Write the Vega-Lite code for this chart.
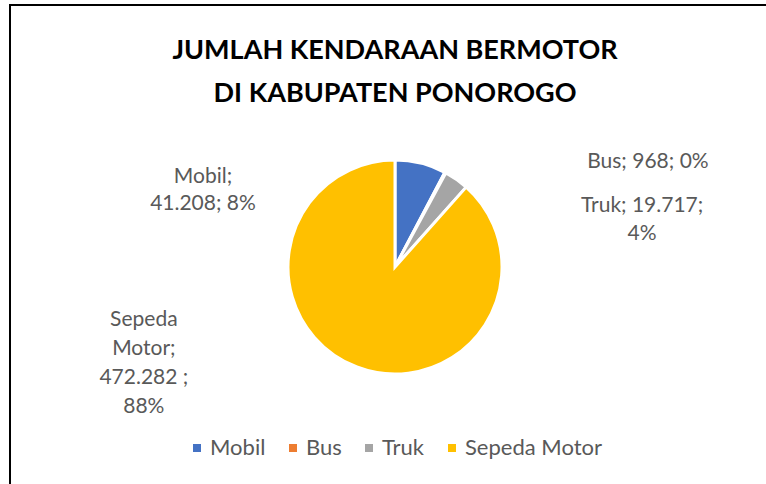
{
  "$schema": "https://vega.github.io/schema/vega-lite/v6.json",
  "autosize": "none",
  "width": 770,
  "height": 524,
  "padding": {"left": 10, "top": 5, "right": -14, "bottom": -45},
  "background": "white",
  "view": {"stroke": "black", "strokeWidth": 2},
  "config": {"view": {"stroke": "black", "strokeWidth": 2}, "style": {"cell": {"stroke": "black", "strokeWidth": 2}}, "font": "Lato"},
  "title": {
    "text": ["JUMLAH KENDARAAN BERMOTOR", "DI KABUPATEN PONOROGO"],
    "fontSize": 27,
    "font": "Lato",
    "fontWeight": "bold",
    "color": "black",
    "anchor": "middle",
    "baseline": "top",
    "offset": -103,
    "lineHeight": 43
  },
  "data": {
    "values": [
      {"kategori": "Mobil", "jumlah": 41208, "urutan": 1, "label": ["Mobil;", "41.208; 8%"]},
      {"kategori": "Bus", "jumlah": 968, "urutan": 2, "label": ["Bus; 968; 0%"]},
      {"kategori": "Truk", "jumlah": 19717, "urutan": 3, "label": ["Truk; 19.717;", "4%"]},
      {"kategori": "Sepeda Motor", "jumlah": 472282, "urutan": 4, "label": ["Sepeda", "Motor;", "472.282 ;", "88%"]}
    ]
  },
  "transform": [
    {"stack": "jumlah", "groupby": [], "sort": [{"field": "urutan", "order": "ascending"}], "as": ["s0", "s1"]}
  ],
  "layer": [
    {
      "mark": {"type": "arc", "outerRadius": 107, "stroke": "white", "strokeWidth": 3},
      "encoding": {
        "theta": {"field": "s0", "type": "quantitative", "scale": {"domain": [0, 534175]}},
        "theta2": {"field": "s1"},
        "color": {
          "field": "kategori",
          "type": "nominal",
          "sort": ["Mobil", "Bus", "Truk", "Sepeda Motor"],
          "scale": {"domain": ["Mobil", "Bus", "Truk", "Sepeda Motor"], "range": ["#4472C4", "#ED7D31", "#A5A5A5", "#FFC000"]},
          "legend": {
            "orient": "none",
            "legendX": 176,
            "legendY": 432,
            "direction": "horizontal",
            "title": null,
            "symbolType": "square",
            "symbolSize": 64,
            "symbolStrokeWidth": 0,
            "labelFontSize": 22,
            "labelFont": "Lato",
            "labelColor": "#595959",
            "labelOffset": 2,
            "columnPadding": 16,
            "padding": 0
          }
        }
      }
    },
    {
      "transform": [{"filter": "datum.kategori == 'Mobil'"}],
      "mark": {"type": "text", "radius": 120, "dx": -192, "dy": 30, "fontSize": 21, "color": "#595959", "align": "center", "baseline": "middle", "lineHeight": 27},
      "encoding": {"theta": {"field": "s0", "type": "quantitative"}, "text": {"field": "label"}}
    },
    {
      "transform": [{"filter": "datum.kategori == 'Bus'"}],
      "mark": {"type": "text", "radius": 120, "dx": 197, "dy": 1, "fontSize": 21, "color": "#595959", "align": "center", "baseline": "middle", "lineHeight": 27},
      "encoding": {"theta": {"field": "s0", "type": "quantitative"}, "text": {"field": "label"}}
    },
    {
      "transform": [{"filter": "datum.kategori == 'Truk'"}],
      "mark": {"type": "text", "radius": 120, "dx": 190, "dy": 45, "fontSize": 21, "color": "#595959", "align": "center", "baseline": "middle", "lineHeight": 28},
      "encoding": {"theta": {"field": "s0", "type": "quantitative"}, "text": {"field": "label"}}
    },
    {
      "transform": [{"filter": "datum.kategori == 'Sepeda Motor'"}],
      "mark": {"type": "text", "radius": 120, "dx": -331, "dy": 143, "fontSize": 21, "color": "#595959", "align": "center", "baseline": "middle", "lineHeight": 29},
      "encoding": {"theta": {"field": "s0", "type": "quantitative"}, "text": {"field": "label"}}
    }
  ]
}
